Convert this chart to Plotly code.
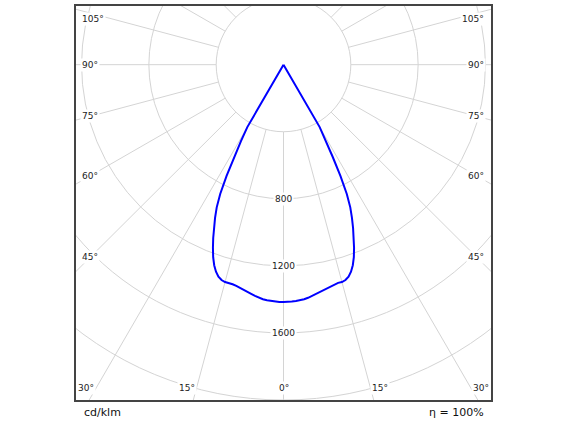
import numpy as np
import plotly.graph_objects as go

# ---- data ----
GAMMA_DEG = list(range(0, 32))
INTENSITY = [1415, 1415, 1413, 1411, 1408, 1404, 1398, 1389, 1380, 1371,
             1362, 1355, 1349, 1344, 1341, 1342, 1336, 1322, 1298, 1265,
             1222, 1170, 1115, 1058, 1000, 939, 858, 745, 622, 520,
             430, 0]
RING_VALUES = [400, 800, 1200, 1600, 2000, 2400]
RING_LABELS = [800, 1200, 1600]
SIDE_LABEL_ANGLES = [105, 90, 75, 60, 45]
BOTTOM_LABEL_ANGLES = [30, 15, 0]
SPOKE_ANGLES = list(range(0, 360, 15))
UNIT_TEXT = "cd/klm"
ETA_TEXT = "η = 100%"

# ---- geometry / layout ----
W, H = 567, 425
ML, MR, MT, MB = 76, 76, 4, 25
X_MAX = 1233
Y_TOP, Y_BOT = 350, -2000
pw, ph = W - ML - MR, H - MT - MB
ux = 2 * X_MAX / pw          # data units per px (x)
uy = (Y_TOP - Y_BOT) / ph    # data units per px (y)

GRID = "#d4d4d4"
FONT = "DejaVu Sans"
TXT = "#222222"

g = np.radians(np.array(GAMMA_DEG, dtype=float))
I = np.array(INTENSITY, dtype=float)
# left half (gamma descending) then right half
xs = np.concatenate([-(I * np.sin(g))[::-1], (I * np.sin(g))[1:]])
ys = np.concatenate([-(I * np.cos(g))[::-1], -(I * np.cos(g))[1:]])

fig = go.Figure()
fig.add_trace(go.Scatter(x=xs, y=ys, mode="lines",
                         line=dict(color="#0000ff", width=2),
                         hoverinfo="skip", showlegend=False))

shapes = []
for r in RING_VALUES:
    shapes.append(dict(type="circle", xref="x", yref="y", x0=-r, x1=r, y0=-r, y1=r,
                       line=dict(color=GRID, width=1), layer="below"))
r0 = RING_VALUES[0]
for a in SPOKE_ANGLES:
    t = np.radians(a)
    shapes.append(dict(type="line", xref="x", yref="y",
                       x0=r0 * np.sin(t), y0=-r0 * np.cos(t),
                       x1=4000 * np.sin(t), y1=-4000 * np.cos(t),
                       line=dict(color=GRID, width=1), layer="below"))

ann = []
afont = dict(family=FONT, size=9, color=TXT)
for r in RING_LABELS:
    ann.append(dict(x=0, y=-r, xref="x", yref="y", text=str(r), showarrow=False,
                    font=afont, bgcolor="white", borderpad=1, xanchor="center", yanchor="middle"))

x_side = X_MAX - 14 * ux
y_cap = Y_TOP - 13 * uy
for a in SIDE_LABEL_ANGLES:
    t = np.radians(a)
    yv = -x_side * np.cos(t) / np.sin(t)
    yv = min(yv, y_cap)
    ann.append(dict(x=-X_MAX + 4 * ux, y=yv, xref="x", yref="y", text=f"{a}°", showarrow=False,
                    font=afont, bgcolor="white", borderpad=1, xanchor="left", yanchor="middle"))
    ann.append(dict(x=X_MAX - 5 * ux, y=yv, xref="x", yref="y", text=f"{a}°", showarrow=False,
                    font=afont, bgcolor="white", borderpad=1, xanchor="right", yanchor="middle"))

y_bot_lab = Y_BOT + 12 * uy
for a in BOTTOM_LABEL_ANGLES:
    xv = -y_bot_lab * np.tan(np.radians(a))
    if a == 0:
        ann.append(dict(x=0, y=y_bot_lab, xref="x", yref="y", text=f"{a}°", showarrow=False,
                        font=afont, bgcolor="white", borderpad=1, xanchor="center", yanchor="middle"))
    else:
        ann.append(dict(x=-xv, y=y_bot_lab, xref="x", yref="y", text=f"{a}°", showarrow=False,
                        font=afont, bgcolor="white", borderpad=1, xanchor="right", yanchor="middle"))
        ann.append(dict(x=xv, y=y_bot_lab, xref="x", yref="y", text=f"{a}°", showarrow=False,
                        font=afont, bgcolor="white", borderpad=1, xanchor="left", yanchor="middle"))

bfont = dict(family=FONT, size=11, color="#111111")
ann.append(dict(x=0, y=0, xref="paper", yref="paper", text=UNIT_TEXT, showarrow=False,
                font=bfont, xanchor="left", yanchor="middle", xshift=6, yshift=-12))
ann.append(dict(x=1, y=0, xref="paper", yref="paper", text=ETA_TEXT, showarrow=False,
                font=bfont, xanchor="right", yanchor="middle", xshift=-5, yshift=-12))

axis_common = dict(showgrid=False, zeroline=False, showticklabels=False, ticks="",
                   showline=True, mirror=True, linecolor="#444444", linewidth=2, fixedrange=True)
fig.update_layout(
    width=W, height=H,
    margin=dict(l=ML, r=MR, t=MT, b=MB, pad=0),
    paper_bgcolor="white", plot_bgcolor="white",
    xaxis=dict(range=[-X_MAX, X_MAX], **axis_common),
    yaxis=dict(range=[Y_BOT, Y_TOP], **axis_common),
    shapes=shapes, annotations=ann, showlegend=False,
)
fig.write_html("out.html", config={"displayModeBar": False},
               post_script="document.body.style.margin='0';document.body.style.overflow='hidden';")
